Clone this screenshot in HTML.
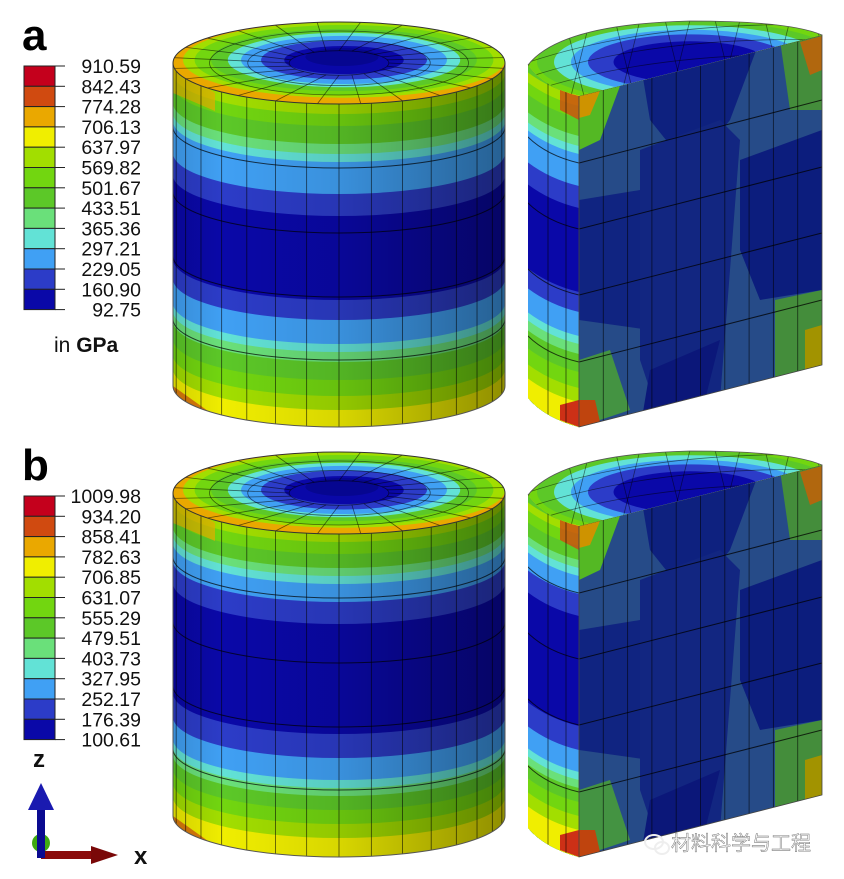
<!DOCTYPE html>
<html><head><meta charset="utf-8">
<style>
html,body{margin:0;padding:0;background:#fff;overflow:hidden;width:844px;height:879px;}
svg{display:block;font-family:"Liberation Sans","Noto Sans CJK SC",sans-serif;}
</style></head>
<body>
<svg id="fig" width="844" height="879" viewBox="0 0 844 879" xmlns="http://www.w3.org/2000/svg">
<defs>
 <linearGradient id="shade" x1="0" x2="1" y1="0" y2="0">
  <stop offset="0" stop-color="#000" stop-opacity="0.12"/>
  <stop offset="0.15" stop-color="#000" stop-opacity="0"/>
  <stop offset="0.5" stop-color="#000" stop-opacity="0.1"/>
  <stop offset="1" stop-color="#000" stop-opacity="0.4"/>
 </linearGradient>
</defs>
<g id="root"></g>
</svg>
<script>
const legendA = ["910.59","842.43","774.28","706.13","637.97","569.82","501.67","433.51","365.36","297.21","229.05","160.90","92.75"];
const legendB = ["1009.98","934.20","858.41","782.63","706.85","631.07","555.29","479.51","403.73","327.95","252.17","176.39","100.61"];
const legendColors = ["#c4001c","#d04a10","#eaa800","#f0ee00","#a2de00","#72d610","#5cc828","#6ae07a","#62e2d6","#40a0f4","#2c3cc8","#0a08a8"];
const bandIdxA = [4,5,6,7,8,9,10,11,10,9,8,7,6,5,4,3];
const bandStartA = [0,10,22,40,50,58,90,112,196,216,240,248,258,276,292,306];
const bandIdxB = [4,5,6,7,8,9,10,11,10,9,8,7,6,5,4,3];
const bandStartB = [0,8,20,34,42,50,68,90,200,224,246,254,262,276,290,304];

const NS="http://www.w3.org/2000/svg";
const root=document.getElementById('root');
function el(tag,attrs,parent){const e=document.createElementNS(NS,tag);for(const k in attrs)e.setAttribute(k,attrs[k]);(parent||root).appendChild(e);return e;}

function legend(vals,label,top,step,labY){
  const g=el('g',{});
  
  
  const t=el('text',{x:22,y:labY,'font-size':44,'font-weight':'bold',fill:'#000'},g);
  t.textContent=label;
  
  
  for(let i=0;i<legendColors.length;i++){
    const r=el('rect',{x:24,y:top+i*step,width:31,height:step,fill:legendColors[i],stroke:'#222','stroke-width':1},g);
    
    
  }
  for(let i=0;i<vals.length;i++){
    const y=top+i*step;
    el('line',{x1:55,x2:65,y1:y,y2:y,stroke:'#222','stroke-width':1},g);
    const tx=el('text',{x:141,y:y+7,'font-size':19.5,'text-anchor':'end',fill:'#111'},g);
    tx.textContent=vals[i];
    
    
  }
}
legend(legendA,'a',66,20.3,50);
legend(legendB,'b',496,20.3,480);
const unit=el('text',{x:54,y:352,'font-size':21,fill:'#111'});
unit.innerHTML='in <tspan font-weight="bold">GPa</tspan>';



let cid=0;
function fullCyl(dy,bandIdx,bandStart,name){
  const g=el('g',{transform:'translate(0,'+dy+')'});
  
  
  const cx=339,rx=166,ry=41,L=173,R=505,ty=63,by=386;
  const id='c'+(cid++);
  const cp=el('clipPath',{id:id},g);
  el('path',{d:`M${L},${ty} L${L},${by} A${rx} ${ry} 0 0 0 ${R},${by} L${R},${ty} A${rx} ${ry} 0 0 1 ${L},${ty} Z`},cp);
  const side=el('g',{'clip-path':`url(#${id})`},g);
  for(let i=0;i<bandIdx.length;i++){
    const y=ty+bandStart[i];
    el('path',{d:`M${L},${y} A${rx} ${ry} 0 0 0 ${R},${y} L${R},${by+45} L${L},${by+45} Z`,fill:legendColors[bandIdx[i]]},side);
  }
  // warm edges at top/bottom corners
  el('polygon',{points:`${L},${ty} 215,${ty+30} 215,${ty+48} ${L},${ty+30}`,fill:'#e8b000','fill-opacity':0.7},side);
  el('polygon',{points:`${L},${by} 215,${by+30} 215,${by+45} ${L},${by+45}`,fill:'#d04a10','fill-opacity':0.7},side);
  el('rect',{x:L,y:0,width:R-L,height:500,fill:'url(#shade)'},side);
  const n=16;
  for(let k=1;k<n;k++){
    const th=Math.PI*k/n, x=cx-rx*Math.cos(th), s=ry*Math.sin(th);
    el('line',{x1:x,x2:x,y1:ty+s,y2:by+s,stroke:'#000','stroke-opacity':0.6,'stroke-width':0.9},side);
  }
  [105,170,234,297].forEach(o=>{
    el('path',{d:`M${L},${ty+o-ry} A${rx} ${ry} 0 0 0 ${R},${ty+o-ry}`,fill:'none',stroke:'#000','stroke-opacity':0.7,'stroke-width':1},side);
  });
  el('path',{d:`M${L},${ty} L${L},${by} A${rx} ${ry} 0 0 0 ${R},${by} L${R},${ty}`,fill:'none',stroke:'#555','stroke-width':1},g);
  const id2='c'+(cid++);
  const cp2=el('clipPath',{id:id2},g);
  el('ellipse',{cx:cx,cy:ty,rx:rx,ry:ry},cp2);
  const top=el('g',{'clip-path':`url(#${id2})`},g);
  el('ellipse',{cx:cx,cy:ty,rx:rx,ry:ry,fill:legendColors[2]},top);
  const rings=[[0.97,4],[0.9,5],[0.8,6],[0.7,8],[0.62,9],[0.5,10],[0.36,11]];
  rings.forEach(r=>el('ellipse',{cx:cx+5,cy:ty-3,rx:rx*r[0],ry:ry*r[0]*0.95,fill:legendColors[r[1]]},top));
  el('ellipse',{cx:cx+3,cy:ty-6,rx:rx*0.22,ry:ry*0.22,fill:'#060690'},top);
  for(let k=0;k<24;k++){
    const th=2*Math.PI*k/24;
    el('line',{x1:cx+rx*0.3*Math.cos(th),y1:ty+ry*0.3*Math.sin(th),x2:cx+rx*Math.cos(th+0.13),y2:ty+ry*Math.sin(th+0.13),stroke:'#000','stroke-opacity':0.55,'stroke-width':0.8},top);
  }
  [0.3,0.55,0.78].forEach(f=>el('ellipse',{cx:cx,cy:ty,rx:rx*f,ry:ry*f,fill:'none',stroke:'#000','stroke-opacity':0.55,'stroke-width':0.8},top));
  el('ellipse',{cx:cx,cy:ty,rx:rx,ry:ry,fill:'none',stroke:'#333','stroke-width':1},g);
}
function halfCyl(dy,bandIdx,bandStart,name){
  const g=el('g',{transform:'translate(0,'+dy+')'});
  
  
  el('path',{d:'M528,65 Q560,24 690,21 Q790,21 822,35 L822,365 L579,427 Q545,418 528,398 Z',fill:'#5cc828'},g);
  const id='c'+(cid++);
  const cp=el('clipPath',{id:id},g);
  el('path',{d:'M528,65 Q545,88 579,96 L579,427 Q545,418 528,398 Z'},cp);
  const side=el('g',{'clip-path':`url(#${id})`},g);
  for(let i=0;i<bandIdx.length;i++){
    const y=96+bandStart[i];
    el('path',{d:`M520,${y-30} Q545,${y-8} 579,${y} L579,500 L520,500 Z`,fill:legendColors[bandIdx[i]]},side);
  }
  el('polygon',{points:'560,90 579,96 579,120 560,110',fill:'#d04a10','fill-opacity':0.8},side);
  el('polygon',{points:'560,405 579,400 579,427 560,420',fill:'#c4001c','fill-opacity':0.8},side);
  [548,566].forEach(x=>el('line',{x1:x,x2:x,y1:60,y2:440,stroke:'#000','stroke-opacity':0.6,'stroke-width':0.9},side));
  [163,229,295,362].forEach(y=>el('path',{d:`M526,${y-28} Q545,${y-8} 579,${y}`,fill:'none',stroke:'#000','stroke-opacity':0.7},side));
  const id2='c'+(cid++);
  const cp2=el('clipPath',{id:id2},g);
  el('polygon',{points:'579,96 822,35 822,365 579,427'},cp2);
  const face=el('g',{'clip-path':`url(#${id2})`},g);
  el('rect',{x:579,y:30,width:245,height:400,fill:'#2a5294'},face);
  el('polygon',{points:'640,60 760,40 730,120 690,170 650,120',fill:'#10248a'},face);
  el('polygon',{points:'579,200 640,190 700,150 700,330 650,330 579,320',fill:'#12288c'},face);
  el('polygon',{points:'640,150 720,120 740,140 720,400 660,420 640,360',fill:'#142a8c'},face);
  el('polygon',{points:'740,160 822,130 822,290 760,300 740,250',fill:'#0e2088'},face);
  el('polygon',{points:'650,370 720,340 700,420 640,430',fill:'#0c1a84'},face);
  el('polygon',{points:'579,96 620,86 600,140 579,150',fill:'#5cc828'},face);
  el('polygon',{points:'579,96 600,91 590,115 579,118',fill:'#e0a000'},face);
  el('polygon',{points:'780,40 822,35 822,110 790,110',fill:'#4a9a40'},face);
  el('polygon',{points:'800,42 822,36 822,70 810,75',fill:'#c07010'},face);
  el('polygon',{points:'579,360 610,350 630,410 579,427',fill:'#4aa048'},face);
  el('polygon',{points:'579,400 595,400 600,422 579,427',fill:'#d04a10'},face);
  el('polygon',{points:'775,300 822,290 822,365 775,378',fill:'#4a9a40'},face);
  el('polygon',{points:'805,330 822,325 822,365 805,370',fill:'#b0a000'},face);
  el('rect',{x:579,y:30,width:245,height:400,fill:'#000','fill-opacity':0.08},face);
  for(let k=1;k<10;k++){const x=579+k*24.3;const t=96-61*(x-579)/243;const b=427-62*(x-579)/243;
    el('line',{x1:x,x2:x,y1:t,y2:b,stroke:'#000','stroke-opacity':0.6,'stroke-width':0.9},face);}
  [[163,100],[229,167],[295,233],[362,300]].forEach(p=>el('line',{x1:579,y1:p[0],x2:822,y2:p[1],stroke:'#000','stroke-opacity':0.75},face));
  el('polygon',{points:'579,96 822,35 822,365 579,427',fill:'none',stroke:'#444','stroke-width':0.8},g);
  const id3='c'+(cid++);
  const cp3=el('clipPath',{id:id3},g);
  el('path',{d:'M528,65 Q560,24 690,21 Q790,21 822,35 L579,96 Q545,88 528,65 Z'},cp3);
  const top=el('g',{'clip-path':`url(#${id3})`},g);
  el('rect',{x:520,y:15,width:310,height:90,fill:legendColors[1]},top);
  const rings=[[1.05,3],[0.98,5],[0.9,6],[0.8,8],[0.7,9],[0.6,10],[0.45,11]];
  rings.forEach(r=>el('ellipse',{cx:690,cy:62,rx:170*r[0],ry:46*r[0],fill:legendColors[r[1]]},top));
  for(let k=0;k<12;k++){const x=540+k*25;el('line',{x1:x,y1:20,x2:x-20+ (k%2)*40,y2:100,stroke:'#000','stroke-opacity':0.5,'stroke-width':0.8},top);}
  [45,60,75].forEach(y=>el('path',{d:`M520,${y+20} Q650,${y-25} 830,${y-20}`,fill:'none',stroke:'#000','stroke-opacity':0.5,'stroke-width':0.8},top));
  el('path',{d:'M528,65 Q560,24 690,21 Q790,21 822,35',fill:'none',stroke:'#555','stroke-width':0.8},g);
}
fullCyl(0,bandIdxA,bandStartA,'cylinder-a-full');
halfCyl(0,bandIdxA,bandStartA,'cylinder-a-half');
fullCyl(430,bandIdxB,bandStartB,'cylinder-b-full');
halfCyl(430,bandIdxB,bandStartB,'cylinder-b-half');

const ax=el('g',{});


el('circle',{cx:41,cy:843,r:9,fill:'#3faa10'},ax);
el('rect',{x:41,y:851,width:52,height:8,fill:'#8a0a0a'},ax);
el('polygon',{points:'91,846 118,855 91,864',fill:'#7a0808'},ax);
el('rect',{x:37,y:800,width:8,height:58,fill:'#0a0a90'},ax);
el('polygon',{points:'28,810 41,783 54,810',fill:'#1a1ab0'},ax);
const zl=el('text',{x:33,y:767,'font-size':24,'font-weight':'bold',fill:'#111'},ax);zl.textContent='z';


const xl=el('text',{x:134,y:864,'font-size':24,'font-weight':'bold',fill:'#111'},ax);xl.textContent='x';



const wm=el('g',{});


el('ellipse',{cx:654,cy:842,rx:9,ry:7,fill:'none',stroke:'#eee','stroke-width':2},wm);
el('ellipse',{cx:662,cy:848,rx:7,ry:6,fill:'none',stroke:'#eee','stroke-width':2},wm);
const wt=el('text',{x:671,y:850,'font-size':20,fill:'#f4f4f4',stroke:'#666','stroke-width':0.4},wm);
wt.textContent='材料科学与工程';
</script>
</body></html>
